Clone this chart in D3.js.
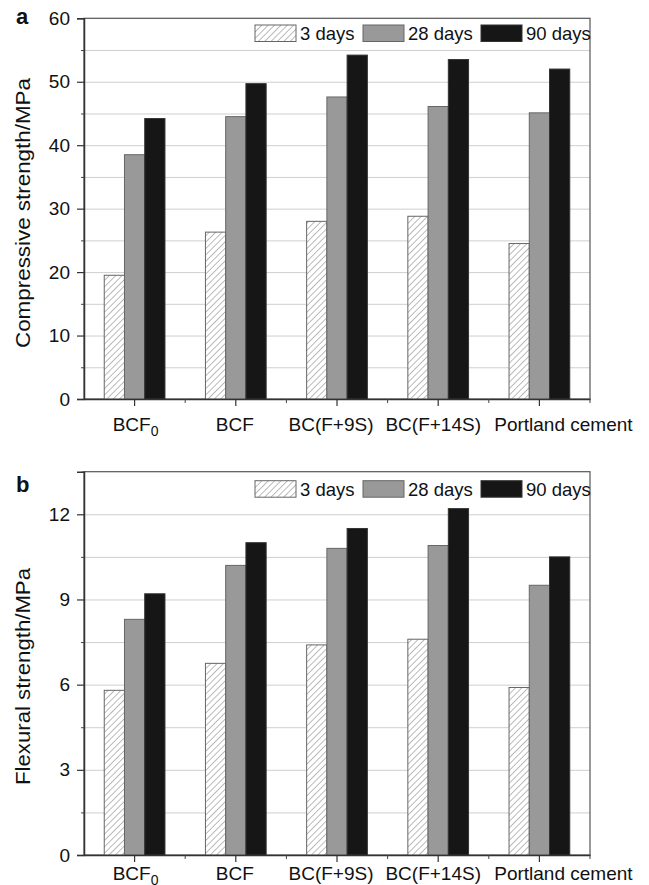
<!DOCTYPE html>
<html>
<head>
<meta charset="utf-8">
<script src="https://cdn.jsdelivr.net/npm/d3@7"></script>
<style>
  body { margin: 0; background: #fff; }
  text { font-family: "Liberation Sans", Arial, Helvetica, sans-serif; fill: #111; }
</style>
</head>
<body>
<script>

// categories (a "_" marks a subscript)
var categories = ["BCF_0", "BCF", "BC(F+9S)", "BC(F+14S)", "Portland cement"];
var seriesNames = ["3 days", "28 days", "90 days"];

// panel a - compressive strength, MPa
var comp3  = [19.5, 26.3, 28.0, 28.8, 24.5];
var comp28 = [38.5, 44.5, 47.6, 46.1, 45.1];
var comp90 = [44.2, 49.7, 54.2, 53.5, 52.0];

// panel b - flexural strength, MPa
var flex3  = [5.8, 6.75, 7.4, 7.6, 5.9];
var flex28 = [8.3, 10.2, 10.8, 10.9, 9.5];
var flex90 = [9.2, 11.0, 11.5, 12.2, 10.5];

var compMajor = [0, 10, 20, 30, 40, 50, 60];
var compMinor = [5, 15, 25, 35, 45, 55];
var flexMajor = [0, 3, 6, 9, 12];
var flexMinor = [1.5, 4.5, 7.5, 10.5, 13.5];

var width = 649, height = 885;

// labels are nudged sideways so the long ones don't collide
var labelDx = [1, -1, -6, -5, 24];

var svg = d3.select("body").append("svg")
    .attr("width", width)
    .attr("height", height);

// hatch for the 3 days bars
var defs = svg.append("defs");
defs.append("pattern")
    .attr("id", "hatch")
    .attr("patternUnits", "userSpaceOnUse")
    .attr("width", 4.5)
    .attr("height", 4.5)
    .attr("patternTransform", "rotate(45)")
  .call(function(p) {
    p.append("rect").attr("width", 4.5).attr("height", 4.5).attr("fill", "#fff");
    p.append("line").attr("x1", 0).attr("y1", 0).attr("x2", 0).attr("y2", 4.5)
      .attr("stroke", "#777").attr("stroke-width", 1);
  });

var fills = ["url(#hatch)", "#999999", "#161616"];
var strokes = ["#666", "#666", "#333"];

var fontFamily = '"Liberation Sans", Arial, Helvetica, sans-serif';

function drawPanel(opt) {
  var g = svg.append("g");
  var x0 = d3.scaleBand().domain(categories)
      .range([84, 590]).paddingInner(0.4).paddingOuter(0.2);
  var xCat = d3.scaleBand().domain(categories).range([84, 590]);
  var x1 = d3.scaleBand().domain(seriesNames).range([0, x0.bandwidth()]);
  var y = d3.scaleLinear().domain([0, opt.max]).range([opt.bottom, opt.top]);

  // gridlines
  g.append("g")
      .attr("transform", "translate(84,0)")
      .call(d3.axisLeft(y).tickValues(opt.major.concat(opt.minor).filter(function(v){ return v > 0 && v < opt.max; }))
        .tickSize(-506).tickFormat(""))
      .call(function(a) {
        a.select(".domain").remove();
        a.selectAll("line").attr("stroke", "#cfcfcf").attr("stroke-width", 1);
      });

  // frame
  g.append("rect")
      .attr("x", 84).attr("y", opt.top)
      .attr("width", 506).attr("height", opt.bottom - opt.top)
      .attr("fill", "none").attr("stroke", "#555").attr("stroke-width", 1.2);

  // bars
  var rows = categories.map(function(c, i) {
    return opt.series.map(function(s, j) { return { cat: c, name: seriesNames[j], value: s[i], k: j }; });
  });
  g.selectAll(".grp")
    .data(rows)
    .enter().append("g")
      .attr("transform", function(d) { return "translate(" + x0(d[0].cat) + ",0)"; })
    .selectAll("rect")
    .data(function(d) { return d; })
    .enter().append("rect")
      .attr("x", function(d) { return x1(d.name); })
      .attr("y", function(d) { return y(d.value); })
      .attr("width", x1.bandwidth())
      .attr("height", function(d) { return opt.bottom - y(d.value); })
      .attr("fill", function(d) { return fills[d.k]; })
      .attr("stroke", function(d) { return strokes[d.k]; })
      .attr("stroke-width", 1);

  // y axis, minor + major ticks
  g.append("g")
      .attr("transform", "translate(84,0)")
      .call(d3.axisLeft(y).tickValues(opt.minor).tickSize(3).tickFormat(""))
      .call(function(a) { a.select(".domain").remove(); a.selectAll("line").attr("stroke", "#444"); });
  g.append("g")
      .attr("transform", "translate(84,0)")
      .call(d3.axisLeft(y).tickValues(opt.major).tickSize(7).tickPadding(7))
      .call(function(a) {
        a.select(".domain").attr("stroke", "#333").attr("stroke-width", 1.5);
        a.selectAll("line").attr("stroke", "#333").attr("stroke-width", 1.2);
        a.selectAll("text").attr("font-size", 19).attr("font-family", fontFamily).attr("fill", "#111");
      });

  // x axis
  g.append("g")
      .attr("transform", "translate(0," + opt.bottom + ")")
      .call(d3.axisBottom(xCat).tickValues([]).tickSizeOuter(0))
      .call(function(a) { a.select(".domain").attr("stroke", "#333").attr("stroke-width", 1.5); });
  g.selectAll(".xmaj")
    .data(categories)
    .enter().append("line")
      .attr("x1", function(d) { return xCat(d) + xCat.bandwidth() / 2; })
      .attr("x2", function(d) { return xCat(d) + xCat.bandwidth() / 2; })
      .attr("y1", opt.bottom).attr("y2", opt.bottom + 7)
      .attr("stroke", "#333").attr("stroke-width", 1.2);
  g.selectAll(".xmin")
    .data(categories)
    .enter().append("line")
      .attr("x1", function(d) { return xCat(d) + xCat.bandwidth(); })
      .attr("x2", function(d) { return xCat(d) + xCat.bandwidth(); })
      .attr("y1", opt.bottom).attr("y2", opt.bottom + 4)
      .attr("stroke", "#444").attr("stroke-width", 1);

  var xl = g.selectAll(".xlab")
    .data(categories)
    .enter().append("text")
      .attr("x", function(d, i) { return xCat(d) + xCat.bandwidth() / 2 + labelDx[i]; })
      .attr("y", opt.labelY)
      .attr("text-anchor", "middle")
      .attr("font-size", 19);
  xl.each(function(d) {
    var parts = d.split("_");
    var t = d3.select(this);
    t.append("tspan").text(parts[0]);
    if (parts[1]) t.append("tspan").attr("font-size", 14).attr("dy", 5).text(parts[1]);
  });

  // y title
  g.append("text")
      .attr("transform", "translate(30," + opt.titleY + ") rotate(-90)")
      .attr("text-anchor", "middle")
      .attr("font-size", 19.5)
      .attr("textLength", opt.titleLen)
      .attr("lengthAdjust", "spacingAndGlyphs")
      .text(opt.title);

  // panel letter
  g.append("text")
      .attr("x", 16).attr("y", opt.letterY)
      .attr("font-size", 22).attr("font-weight", "bold")
      .text(opt.letter);

  // legend
  var legX = [255, 363, 481];
  var leg = g.selectAll(".leg")
    .data(seriesNames)
    .enter().append("g")
      .attr("transform", function(d, i) { return "translate(" + legX[i] + "," + opt.legendY + ")"; });
  leg.append("rect")
      .attr("width", 41).attr("height", 16.5)
      .attr("fill", function(d, i) { return fills[i]; })
      .attr("stroke", function(d, i) { return strokes[i]; });
  leg.append("text")
      .attr("x", 45).attr("y", 15)
      .attr("font-size", 18.5)
      .text(function(d) { return d; });
}

drawPanel({
  letter: "a", letterY: 24,
  top: 18.3, bottom: 399, max: 60,
  major: compMajor, minor: compMinor,
  series: [comp3, comp28, comp90],
  labelY: 430.5, legendY: 25,
  title: "Compressive strength/MPa", titleY: 213, titleLen: 270
});

drawPanel({
  letter: "b", letterY: 491.5,
  top: 471.7, bottom: 855, max: 13.5,
  major: flexMajor, minor: flexMinor,
  series: [flex3, flex28, flex90],
  labelY: 879.5, legendY: 480.7,
  title: "Flexural strength/MPa", titleY: 676.5, titleLen: 217
});

</script>
</body>
</html>
